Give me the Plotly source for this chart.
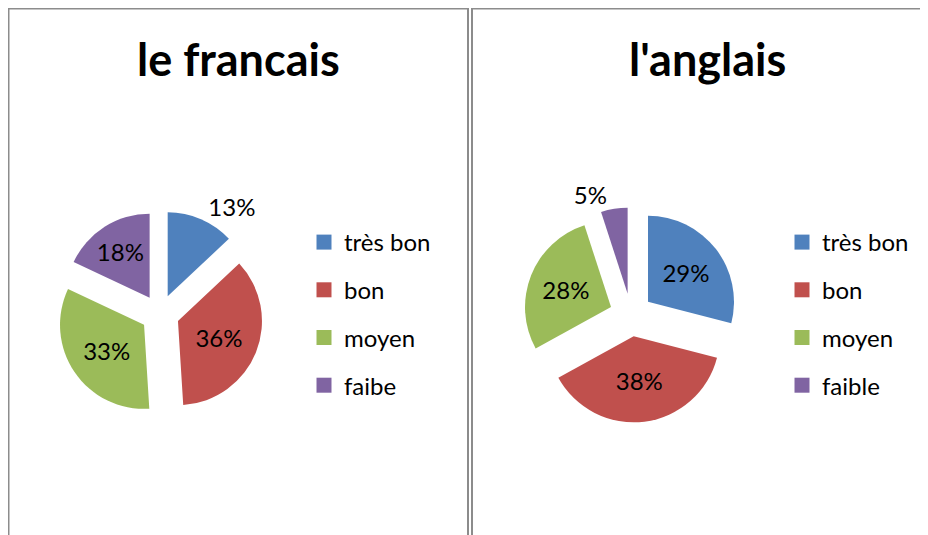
import plotly.graph_objects as go

# data
categories_fr = ['très bon', 'bon', 'moyen', 'faibe']
values_fr = [13, 36, 33, 18]
categories_en = ['très bon', 'bon', 'moyen', 'faible']
values_en = [29, 38, 28, 5]
titles = ['le francais', "l'anglais"]

colors = ['#4F81BD', '#C0504D', '#9BBB59', '#8064A2']
W, H = 928, 535
OFF = 8  # page body margin of the html output
FONT = 'Lato'


def px_x(v):
    return (v - OFF) / W


def px_y(v):
    return 1 - (v - OFF) / H


def pie_domain(cx, cy, half):
    return dict(x=[px_x(cx - half), px_x(cx + half)],
                y=[px_y(cy + half), px_y(cy - half)])


fig = go.Figure()

# left pie
fig.add_trace(go.Pie(
    labels=categories_fr, values=values_fr, sort=False,
    direction='clockwise', rotation=0, pull=0.23,
    marker=dict(colors=colors, line=dict(width=0)),
    textinfo='percent',
    textposition=['outside', 'inside', 'inside', 'inside'],
    insidetextorientation='horizontal',
    textfont=dict(family=FONT, size=24, color='black'),
    showlegend=False, hoverinfo='skip',
    domain=pie_domain(160, 314, 84 * 1.23),
))

# right pie
fig.add_trace(go.Pie(
    labels=categories_en, values=values_en, sort=False,
    direction='clockwise', rotation=0, pull=0.25,
    marker=dict(colors=colors, line=dict(width=0)),
    textinfo='percent',
    textposition=['inside', 'inside', 'inside', 'outside'],
    insidetextorientation='horizontal',
    textfont=dict(family=FONT, size=24, color='black'),
    showlegend=False, hoverinfo='skip',
    domain=pie_domain(631, 315, 86 * 1.25),
))

# legend entries (own groups so the item spacing can be widened)
for leg, cats in [('legend', categories_fr), ('legend2', categories_en)]:
    for i, (lab, col) in enumerate(zip(cats, colors)):
        fig.add_trace(go.Scatter(
            x=[None], y=[None], mode='markers', name=lab,
            marker=dict(symbol='square', size=15, color=col),
            legend=leg, legendgroup=f'{leg}_{i}', showlegend=True,
            hoverinfo='skip',
        ))

legend_style = dict(
    xanchor='left', yanchor='top', tracegroupgap=13.5,
    font=dict(family=FONT, size=24, color='black'),
    bgcolor='rgba(0,0,0,0)', borderwidth=0,
)

# panel frames
shapes = [
    dict(type='rect', xref='paper', yref='paper',
         x0=px_x(8.5), x1=px_x(468), y0=-0.1, y1=px_y(8.5),
         line=dict(color='#8C8C8C', width=2)),
    dict(type='rect', xref='paper', yref='paper',
         x0=px_x(472), x1=1.05, y0=-0.1, y1=px_y(8.5),
         line=dict(color='#8C8C8C', width=2)),
]

annotations = [
    dict(text=f'<b>{t}</b>', x=px_x(cx), y=px_y(59),
         xref='paper', yref='paper', showarrow=False,
         xanchor='center', yanchor='middle',
         font=dict(family=FONT, size=45, color='black'))
    for t, cx in zip(titles, [238, 707])
]

fig.update_layout(
    width=W, height=H,
    margin=dict(l=0, r=0, t=0, b=0),
    paper_bgcolor='white', plot_bgcolor='white',
    xaxis=dict(visible=False), yaxis=dict(visible=False),
    legend=dict(x=px_x(304), y=px_y(220), **legend_style),
    legend2=dict(x=px_x(782), y=px_y(220), **legend_style),
    shapes=shapes, annotations=annotations,
    hovermode=False,
)

fig.write_html('out.html')
